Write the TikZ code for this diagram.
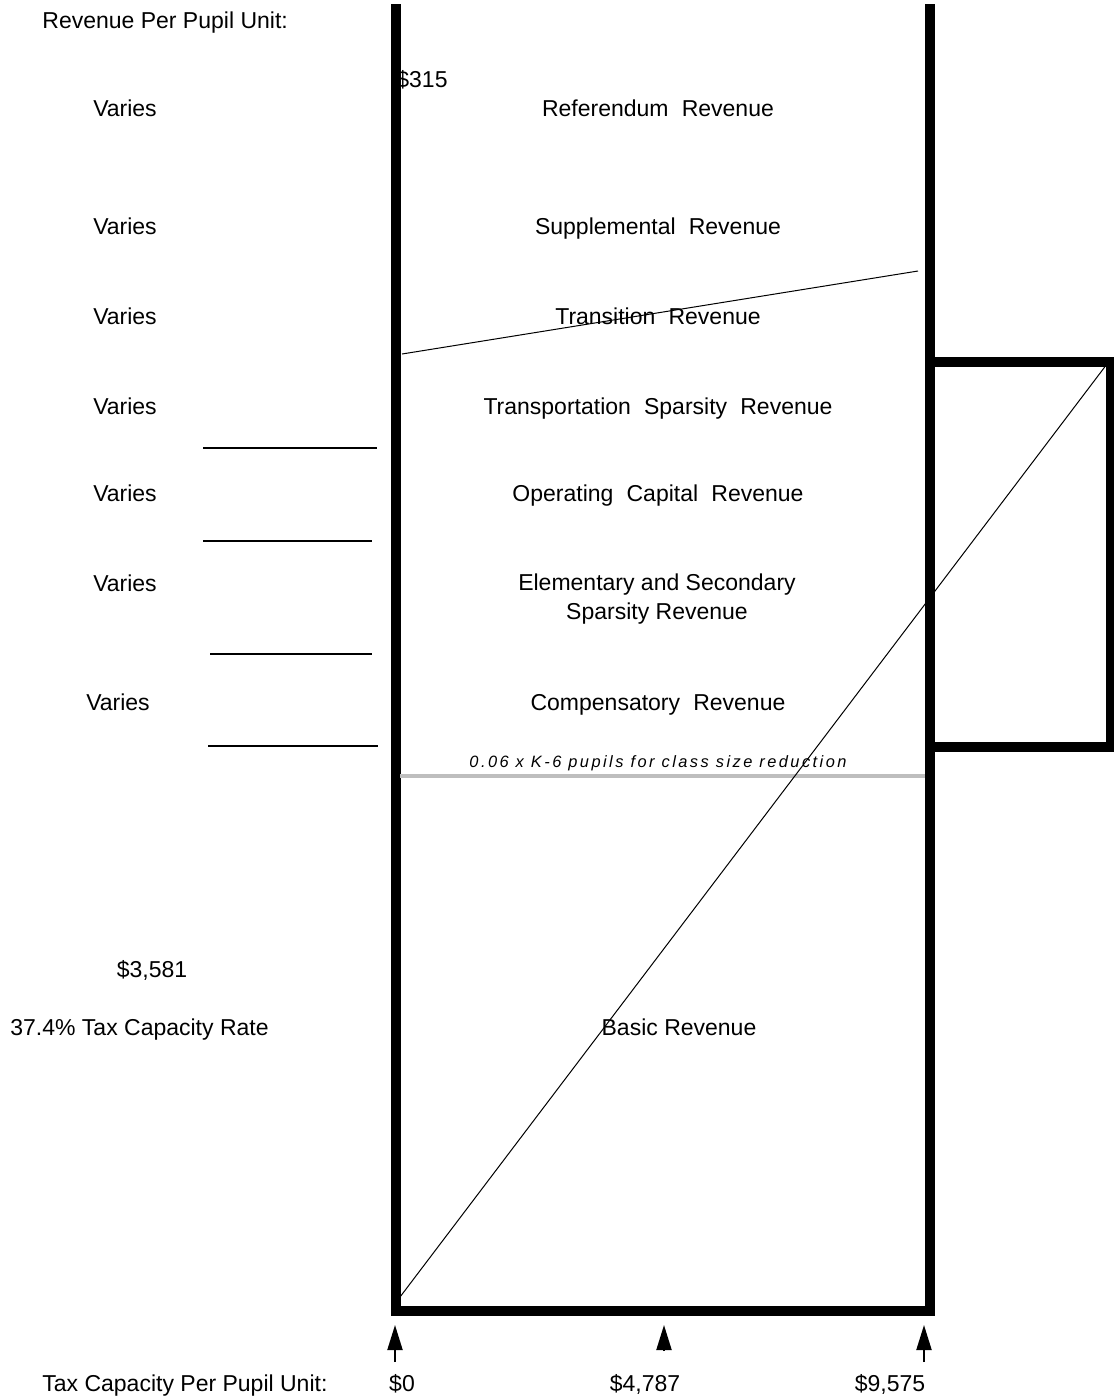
\documentclass[tikz,border=0pt]{standalone}
\usepackage{fontspec}
\setmainfont{Liberation Sans}
\newfontfamily\notefont[LetterSpace=15]{Liberation Sans}
\usepackage{tikz}
\usetikzlibrary{arrows.meta}
\definecolor{ink}{RGB}{0,0,0}
\definecolor{rulegray}{RGB}{190,190,190}
\newcommand\widesp{\spaceskip=6.6pt plus 1pt\relax}

\begin{document}
\begin{tikzpicture}[x=0.5pt,y=-0.5pt,
  lbl/.style={font=\fontsize{11.5}{14}\selectfont,inner sep=0pt,text height=8.25pt,text depth=0pt},
  band/.style={lbl,execute at begin node=\widesp},
  frame/.style={ink,line width=4.8pt,line join=miter},
  tick/.style={ink,line width=1pt,-{Triangle[length=12.5pt,width=7.5pt]}}]
\useasboundingbox (0,0) rectangle (1114,1399);
\coordinate (TL) at (396,4);
\coordinate (BL) at (396,1311);
\coordinate (BR) at (930,1311);
\coordinate (TR) at (930,4);
\coordinate (XT) at (930,362);
\coordinate (XB) at (930,747);
\node[lbl,anchor=west] (p315) at (396,79) {\$315};
\draw[frame] (TL) -- (BL) -- (BR) -- (TR);
\draw[frame] (XT) -- (1111,362) -- (1111,747) -- (XB);
\draw[rulegray,line width=2pt] (400,776) coordinate (g1) -- (925,776) coordinate (g2);
\draw[ink,line width=0.5pt] (402,354) coordinate (t1) -- (918,271) coordinate (t2);
\draw[ink,line width=0.5pt] (400,1297) coordinate (d1) -- (1107,364) coordinate (d2);
\draw[ink,line width=1pt] (203,448) -- (377,448);
\draw[ink,line width=1pt] (203,541) -- (372,541);
\draw[ink,line width=0.7pt] (210,654) -- (372,654);
\draw[ink,line width=0.7pt] (208,746) -- (378,746);
\node[lbl,anchor=west] (rppu) at (42,20) {Revenue Per Pupil Unit:};
\foreach \yy/\nm in {108/v1,226/v2,316/v3,406/v4,493/v5,583/v6}
  \node[lbl] (\nm) at (125,\yy) {Varies};
\node[lbl] (v7) at (118,702) {Varies};
\node[band] (ref) at (658,108) {Referendum Revenue};
\node[band] (sup) at (658,226) {Supplemental Revenue};
\node[band] (trn) at (658,316) {Transition Revenue};
\node[band] (tsp) at (658,406) {Transportation Sparsity Revenue};
\node[band] (opc) at (658,493) {Operating Capital Revenue};
\node[font=\fontsize{11.5}{14.5}\selectfont,inner sep=0pt,align=center] (ess) at (657,599) {Elementary and Secondary\\ Sparsity Revenue};
\node[band] (cmp) at (658,702) {Compensatory Revenue};
\node[font=\notefont\itshape\fontsize{8.2}{10}\selectfont,inner sep=0pt,text height=5.9pt,text depth=0pt] (csr) at (658,762) {0.06 x K-6 pupils for class size reduction};
\node[lbl] (bas) at (679,1027) {Basic Revenue};
\node[lbl] (amt) at (152,969) {\$3,581};
\node[lbl,anchor=west] (rate) at (10,1027) {37.4\% Tax Capacity Rate};
\node[lbl,anchor=west] (tcpu) at (42,1383) {Tax Capacity Per Pupil Unit:};
\node[lbl] (c0) at (402,1383) {\$0};
\node[lbl] (c1) at (645,1383) {\$4,787};
\node[lbl] (c2) at (890,1383) {\$9,575};
\coordinate (a0) at (395,1325);
\coordinate (a1) at (664,1325);
\coordinate (a2) at (924,1325);
\draw[tick] (395,1362) -- (a0);
\draw[tick] (664,1351) -- (a1);
\draw[tick] (924,1362) -- (a2);
\end{tikzpicture}
\end{document}
